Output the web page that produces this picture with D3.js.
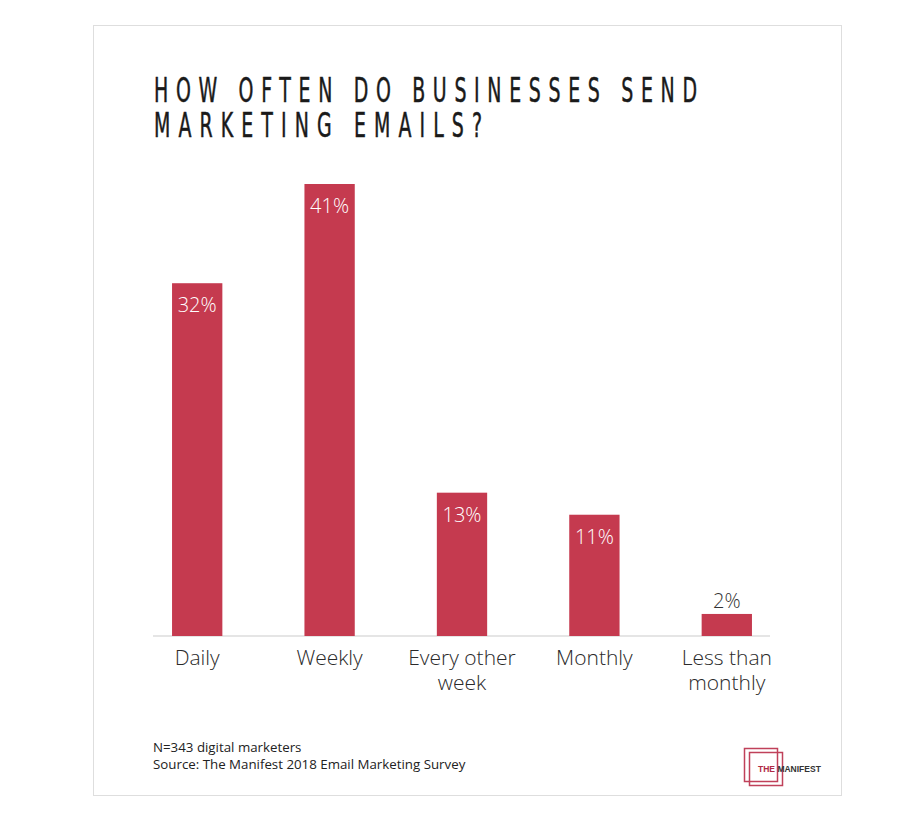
<!DOCTYPE html>
<html>
<head>
<meta charset="utf-8">
<script src="https://cdn.jsdelivr.net/npm/d3@7"></script>
<style>
  html, body { margin: 0; padding: 0; background: #fff; }
  svg { display: block; }
</style>
</head>
<body>
<svg id="chart" width="900" height="815"></svg>
<script>
// Survey results: how often businesses send marketing emails
const categories = ["Daily", "Weekly", "Every other week", "Monthly", "Less than monthly"];
const categoryLines = [["Daily"], ["Weekly"], ["Every other", "week"], ["Monthly"], ["Less than", "monthly"]];
const shares = [32, 41, 13, 11, 2];
const titleLines = ["HOW OFTEN DO BUSINESSES SEND", "MARKETING EMAILS?"];
const notes = ["N=343 digital marketers", "Source: The Manifest 2018 Email Marketing Survey"];

const svg = d3.select("#chart");
const barColor = "#c53a4f";
const textFont = "'Open Sans', 'Lato', sans-serif";

// Card frame
svg.append("rect")
  .attr("x", 93.5).attr("y", 25.5)
  .attr("width", 748).attr("height", 770)
  .attr("fill", "#fff")
  .attr("stroke", "#dedede").attr("stroke-width", 1);

// Title, condensed and letter-spaced
const sx = 0.62;
const titleWidths = [543, 328];
const title = svg.append("g").attr("transform", `translate(154,0) scale(${sx},1)`);
titleLines.forEach((t, i) => {
  title.append("text")
    .attr("x", 0).attr("y", 102 + i * 35)
    .attr("font-family", "'Liberation Sans Narrow', 'DejaVu Sans Condensed', 'Liberation Sans', sans-serif")
    .attr("font-size", 34)
    .attr("fill", "#1a1a1a")
    .attr("stroke", "#1a1a1a")
    .attr("stroke-width", 0.5)
    .attr("textLength", titleWidths[i] / sx)
    .attr("lengthAdjust", "spacing")
    .text(t);
});

// Scales
const x = d3.scaleBand()
  .domain(categories)
  .range([131, 793])
  .paddingInner(0.62)
  .paddingOuter(0.31);

const y = d3.scaleLinear()
  .domain([0, 41])
  .range([636, 184]);

const data = categories.map((c, i) => ({ cat: c, value: shares[i], lines: categoryLines[i] }));

// Baseline
const axis = d3.axisBottom(x).tickSize(0).tickFormat("");
const axisG = svg.append("g").attr("transform", `translate(0,${y(0)})`).call(axis);
axisG.select(".domain").attr("stroke", "#dcdcdc").attr("stroke-width", 1.5)
  .attr("d", `M153,0H770`);

// Bars
svg.append("g").selectAll("rect")
  .data(data)
  .join("rect")
  .attr("x", d => x(d.cat))
  .attr("y", d => y(d.value))
  .attr("width", x.bandwidth())
  .attr("height", d => y(0) - y(d.value))
  .attr("fill", barColor);

// Value labels: inside tall bars, above short ones
svg.append("g").selectAll("text")
  .data(data)
  .join("text")
  .attr("x", d => x(d.cat) + x.bandwidth() / 2)
  .attr("y", d => d.value < 5 ? y(d.value) - 6 : y(d.value) + 29)
  .attr("text-anchor", "middle")
  .attr("font-family", textFont)
  .attr("font-weight", 300)
  .attr("font-size", 20)
  .attr("fill", d => d.value < 5 ? "#333" : "#fff")
  .text(d => d.value + "%");

// Category labels, one text per line
const labelLines = data.flatMap(d =>
  d.lines.map((l, i) => ({ l, i, cx: x(d.cat) + x.bandwidth() / 2 })));
svg.append("g").selectAll("text")
  .data(labelLines)
  .join("text")
  .attr("x", d => d.cx)
  .attr("y", d => 665 + d.i * 25)
  .attr("text-anchor", "middle")
  .attr("font-family", textFont)
  .attr("font-weight", 300)
  .attr("font-size", 21)
  .attr("fill", "#2a2a2a")
  .text(d => d.l);

// Footnotes
notes.forEach((n, i) => {
  svg.append("text")
    .attr("x", 153).attr("y", 752 + i * 17)
    .attr("font-family", textFont)
    .attr("font-size", 13.3)
    .attr("fill", "#222")
    .text(n);
});

// Logo
const logo = svg.append("g");
logo.append("rect").attr("x", 744.5).attr("y", 748.5).attr("width", 33).attr("height", 33)
  .attr("fill", "none").attr("stroke", "#c0415a").attr("stroke-width", 1.5);
logo.append("rect").attr("x", 749.5).attr("y", 752.5).attr("width", 33).attr("height", 33)
  .attr("fill", "none").attr("stroke", "#c0415a").attr("stroke-width", 1.5);
const logoText = logo.append("text")
  .attr("x", 758).attr("y", 772)
  .attr("font-family", "'Liberation Sans', Arial, sans-serif")
  .attr("font-weight", 700)
  .attr("font-size", 8.5)
  .attr("fill", "#333");
logoText.append("tspan").attr("fill", "#b02a45").text("THE ");
logoText.append("tspan").text("MANIFEST");
</script>
</body>
</html>
